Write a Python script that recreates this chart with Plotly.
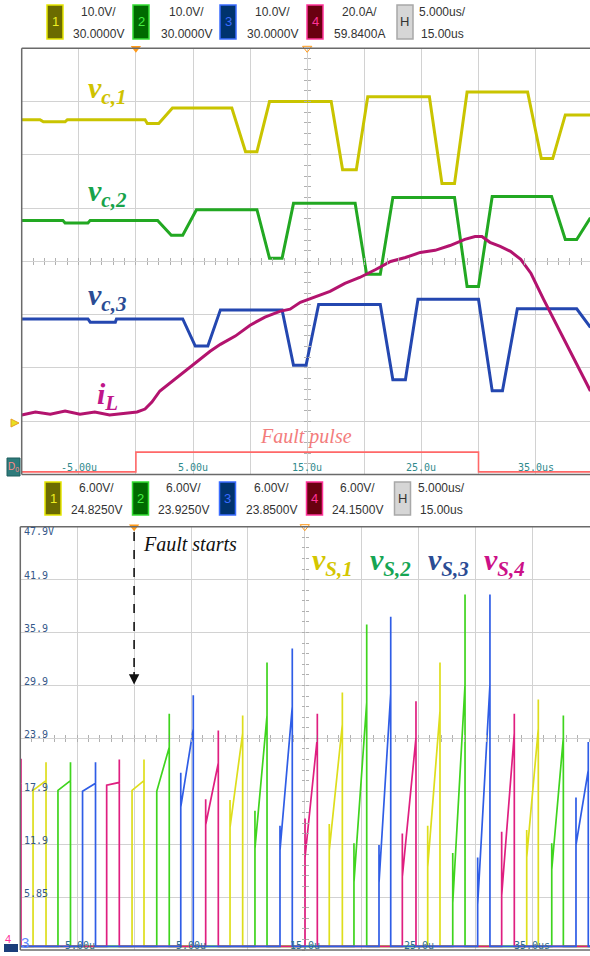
import plotly.graph_objects as go

W, H = 590, 956
def PX(x): return x / W
def PY(y): return 1 - y / H

# ======================= DATA =======================
# ---- upper scope: capacitor voltages (V), inductor current (A), time in us ----
vc1_t = [-10, -8.4, -8.1, -6.2, -6.0, 0.8, 1.0, 2.0, 3.2, 8.4, 9.6, 10.6, 11.7, 17.1, 18.1, 19.3, 20.3, 25.7, 26.8, 27.9, 29.0, 34.3, 35.5, 36.5, 37.6, 39.8]
vc1_v = [56.6, 56.6, 56.2, 56.2, 56.6, 56.6, 55.9, 55.9, 58.8, 58.8, 50.6, 50.6, 60.0, 60.0, 47.2, 47.2, 60.9, 60.9, 44.6, 44.6, 61.8, 61.8, 49.3, 49.3, 57.5, 57.5]

vc2_t = [-10, -6.4, -6.2, -4.2, -4.0, 1.9, 3.1, 4.1, 5.3, 10.6, 11.7, 12.8, 13.8, 19.2, 20.2, 21.4, 22.5, 27.9, 29.0, 30.0, 31.2, 36.4, 37.6, 38.6, 39.8]
vc2_v = [37.7, 37.7, 37.2, 37.2, 37.7, 37.7, 34.9, 34.9, 39.7, 39.7, 30.6, 30.6, 40.9, 40.9, 27.6, 27.6, 42.0, 42.0, 25.3, 25.3, 42.2, 42.2, 34.1, 34.1, 38.2]

vc3_t = [-10, -4.2, -4.0, -1.8, -1.7, 4.1, 5.2, 6.3, 7.4, 12.8, 13.8, 14.9, 16.0, 21.4, 22.5, 23.6, 24.7, 30.0, 31.2, 32.1, 33.4, 38.6, 39.8]
vc3_v = [19.2, 19.2, 18.6, 18.6, 19.2, 19.2, 14.1, 14.1, 20.9, 20.9, 10.5, 10.5, 21.9, 21.9, 7.8, 7.8, 22.9, 22.9, 5.7, 5.7, 21.1, 21.1, 17.6]

iL_t = [-10, -8.8, -7.5, -6.2, -4.9, -3.6, -2.3, -1.0, 0.1, 0.8, 1.4, 2.1, 3.4, 4.7, 5.6, 6.5, 7.4, 8.7, 10.0,
        11.3, 12.6, 13.5, 14.4, 15.7, 17.0, 18.3, 19.6, 21.0, 22.3, 23.6, 24.9, 26.2, 27.5, 28.8, 29.7, 30.3,
        31.0, 31.9, 32.8, 33.7, 34.6, 35.7, 36.9, 38.1, 39.8]
iL_a = [2.2, 3.3, 2.5, 3.7, 2.5, 3.3, 2.2, 2.9, 3.3, 4.4, 7.0, 11.2, 15.7, 20.1, 23.1, 26.1, 28.7, 31.8, 35.9,
        38.9, 41.1, 41.9, 44.5, 46.7, 48.6, 51.6, 53.8, 56.8, 59.8, 61.3, 63.2, 64.0, 65.8, 68.1, 69.2, 69.2,
        67.0, 65.5, 63.6, 60.6, 55.3, 45.6, 35.5, 25.8, 11.2]

fault_t = [-10, 0, 0, 30, 30, 39.8]
fault_lvl = [0, 0, 1, 1, 0, 0]

top_scale = [10.0, 10.0, 10.0, 20.0]
top_offset = [30.0, 30.0, 30.0, 59.84]
top_hdr_scale = ["10.0V/", "10.0V/", "10.0V/", "20.0A/"]
top_hdr_offset = ["30.0000V", "30.0000V", "30.0000V", "59.8400A"]
bot_hdr_scale = ["6.00V/", "6.00V/", "6.00V/", "6.00V/"]
bot_hdr_offset = ["24.8250V", "23.9250V", "23.8500V", "24.1500V"]
hdr_time = ["5.000us/", "15.00us"]

time_label_vals = [-5, 5, 15, 25, 35]
time_label_text = ["-5.00u", "5.00u", "15.0u", "25.0u", "35.0us"]
bot_ytick_vals = [47.9, 41.9, 35.9, 29.9, 23.9, 17.9, 11.9, 5.85]
bot_ytick_text = ["47.9V", "41.9", "35.9", "29.9", "23.9", "17.9", "11.9", "5.85"]

# ---- lower scope: switch voltages, one pulse per off-interval ----
# on/off times (us), level after turn-off edge, ramp start, ramp end, spike peak (V)
s1_on = [-8.88, -0.18, 8.43, 17.15, 25.8, 34.5]
s1_off = [-7.74, 0.87, 9.54, 18.3, 26.88, 35.52]
s1_edge = [18.0, 18.0, 16.9, 14.2, 14.0, 13.5]
s1_start = [18.0, 18.0, 13.8, 11.2, 9.3, 10.4]
s1_end = [19.1, 19.1, 24.5, 25.5, 27.0, 25.0]
s1_peak = [21.2, 21.5, 26.5, 29.1, 32.5, 28.3]

s2_on = [-6.69, 1.99, 10.62, 19.32, 28.0, 36.7]
s2_off = [-5.59, 3.09, 11.68, 20.44, 29.08, 37.72]
s2_edge = [18.0, 17.9, 15.7, 12.0, 10.9, 12.0]
s2_start = [18.0, 17.9, 11.4, 7.6, 5.2, 9.0]
s2_end = [19.1, 22.9, 26.5, 28.0, 30.0, 24.0]
s2_peak = [21.2, 26.7, 32.5, 36.8, 40.2, 26.5]

s3_on = [-4.53, 4.1, 12.82, 21.52, 30.19, 38.83]
s3_off = [-3.39, 5.2, 13.9, 22.55, 31.27, 39.91]
s3_edge = [17.9, 20.0, 14.0, 11.8, 10.4, 17.2]
s3_start = [17.9, 16.1, 11.2, 7.5, 5.0, 11.8]
s3_end = [18.8, 25.0, 27.5, 29.0, 30.0, 20.3]
s3_peak = [21.2, 28.8, 34.1, 37.7, 40.2, 23.5]

s4_on = [-11.0, -2.41, 6.29, 15.02, 23.57, 32.3]
s4_off = [-9.94, -1.30, 7.4, 16.1, 24.77, 33.41]
s4_edge = [18.5, 18.6, 17.0, 14.8, 13.1, 13.3]
s4_start = [18.5, 18.6, 14.1, 10.4, 8.2, 6.1]
s4_end = [18.9, 18.9, 21.1, 24.0, 24.0, 24.5]
s4_peak = [21.6, 21.5, 24.8, 26.7, 28.1, 26.7]

s_base = 0.3  # on-state level

# ======================= LAYOUT GEOMETRY (pixels) =======================
T_L, T_R, T_T, T_B = 21.7, 590, 48.3, 474.5
B_L, B_R, B_T, B_B = 20.3, 590, 526.7, 950
T_XR = [-10, -10 + (T_R - T_L) / 11.42]
B_XR = [-10, -10 + (B_R - B_L) / 11.38]
T_YR = [-4, 4]
B_YR = [-0.1, 47.9]
DIG_LOW, DIG_HIGH = -3.95, -3.58
GRID = "#d2d2d2"

fig = go.Figure()

def div(vals, k):
    return [(v - top_offset[k]) / top_scale[k] for v in vals]

top_cols = ["#c9c400", "#22a822", "#2447b0", "#b3136e"]
fig.add_trace(go.Scatter(x=vc1_t, y=div(vc1_v, 0), mode="lines", line=dict(color=top_cols[0], width=3), xaxis="x", yaxis="y"))
fig.add_trace(go.Scatter(x=vc2_t, y=div(vc2_v, 1), mode="lines", line=dict(color=top_cols[1], width=3), xaxis="x", yaxis="y"))
fig.add_trace(go.Scatter(x=vc3_t, y=div(vc3_v, 2), mode="lines", line=dict(color=top_cols[2], width=3), xaxis="x", yaxis="y"))
fig.add_trace(go.Scatter(x=iL_t, y=div(iL_a, 3), mode="lines", line=dict(color=top_cols[3], width=3), xaxis="x", yaxis="y"))
fig.add_trace(go.Scatter(x=fault_t, y=[DIG_LOW + l * (DIG_HIGH - DIG_LOW) for l in fault_lvl], mode="lines",
                         line=dict(color="#ff6868", width=1.6), xaxis="x", yaxis="y"))

def pulses(on, off, edge, start, end, peak):
    xs, ys = [-12], [s_base]
    for a, b, e, s, en, p in zip(on, off, edge, start, end, peak):
        xs += [a, a, a, b, b, b]
        ys += [s_base, e, s, en, p, s_base]
    xs.append(42); ys.append(s_base)
    return xs, ys

bot_cols = ["#dede1c", "#3fd41e", "#2f5de6", "#df1f80"]
for (on, off, e, s, en, p), c in zip(
        [(s1_on, s1_off, s1_edge, s1_start, s1_end, s1_peak),
         (s2_on, s2_off, s2_edge, s2_start, s2_end, s2_peak),
         (s4_on, s4_off, s4_edge, s4_start, s4_end, s4_peak),
         (s3_on, s3_off, s3_edge, s3_start, s3_end, s3_peak)],
        [bot_cols[0], bot_cols[1], bot_cols[3], bot_cols[2]]):
    xs, ys = pulses(on, off, e, s, en, p)
    fig.add_trace(go.Scatter(x=xs, y=ys, mode="lines", line=dict(color=c, width=1.7), xaxis="x2", yaxis="y2"))

# trigger markers
fig.add_trace(go.Scatter(x=[0], y=[T_YR[1]], mode="markers", marker=dict(symbol="triangle-down", size=9, color="#ff9a1a"),
                         xaxis="x", yaxis="y", cliponaxis=False))
fig.add_trace(go.Scatter(x=[15], y=[T_YR[1]], mode="markers", marker=dict(symbol="triangle-down-open", size=8, color="#ff9a1a"),
                         xaxis="x", yaxis="y", cliponaxis=False))
fig.add_trace(go.Scatter(x=[0], y=[B_YR[1]], mode="markers", marker=dict(symbol="triangle-down", size=9, color="#ff9a1a"),
                         xaxis="x2", yaxis="y2", cliponaxis=False))
fig.add_trace(go.Scatter(x=[15], y=[B_YR[1]], mode="markers", marker=dict(symbol="triangle-down-open", size=8, color="#ff9a1a"),
                         xaxis="x2", yaxis="y2", cliponaxis=False))

# dummy traces for center-line tick axes
for xa, ya in [("x3", "y3"), ("x4", "y4"), ("x5", "y5"), ("x6", "y6")]:
    fig.add_trace(go.Scatter(x=[None], y=[None], xaxis=xa, yaxis=ya, hoverinfo="skip"))

base_ax = dict(showgrid=True, gridcolor=GRID, gridwidth=1, zeroline=False, showticklabels=False,
               ticks="", showline=False, fixedrange=True)
tick_ax = dict(showgrid=False, zeroline=False, showticklabels=False, showline=False, tickcolor="#b0b0b0",
               ticklen=3, tickwidth=1, tickmode="linear", anchor="free")

layout = dict(
    width=W, height=H, margin=dict(l=0, r=0, t=0, b=0), autosize=False,
    paper_bgcolor="white", plot_bgcolor="white", showlegend=False,
    xaxis=dict(base_ax, domain=[PX(T_L), 1], range=T_XR, tickmode="linear", tick0=-10, dtick=5, anchor="y"),
    yaxis=dict(base_ax, domain=[PY(T_B), PY(T_T)], range=T_YR, tickmode="linear", tick0=-4, dtick=1, anchor="x"),
    xaxis2=dict(base_ax, domain=[PX(B_L), 1], range=B_XR, tickmode="linear", tick0=-10, dtick=5, anchor="y2"),
    yaxis2=dict(base_ax, domain=[PY(B_B), PY(B_T)], range=B_YR, tickmode="linear", tick0=-0.1, dtick=6, anchor="x2"),
    xaxis3=dict(tick_ax, overlaying="x", range=T_XR, tick0=-10, dtick=1, ticks="outside", position=PY((T_T + T_B) / 2)),
    xaxis4=dict(tick_ax, overlaying="x", range=T_XR, tick0=-10, dtick=1, ticks="inside", position=PY((T_T + T_B) / 2)),
    yaxis3=dict(tick_ax, overlaying="y", range=T_YR, tick0=-4, dtick=0.2, ticks="outside", position=PX(T_L + 25 * 11.42)),
    yaxis4=dict(tick_ax, overlaying="y", range=T_YR, tick0=-4, dtick=0.2, ticks="inside", position=PX(T_L + 25 * 11.42)),
    xaxis5=dict(tick_ax, overlaying="x2", range=B_XR, tick0=-10, dtick=1, ticks="outside", position=PY((B_T + B_B) / 2)),
    xaxis6=dict(tick_ax, overlaying="x2", range=B_XR, tick0=-10, dtick=1, ticks="inside", position=PY((B_T + B_B) / 2)),
    yaxis5=dict(tick_ax, overlaying="y2", range=B_YR, tick0=-0.1, dtick=1.2, ticks="outside", position=PX(B_L + 25 * 11.38)),
    yaxis6=dict(tick_ax, overlaying="y2", range=B_YR, tick0=-0.1, dtick=1.2, ticks="inside", position=PX(B_L + 25 * 11.38)),
)
fig.update_layout(**layout)

shapes = []
ann = []
BORDER = "#6a6a6a"
# panel borders
for x0, y0, x1, y1 in [(T_L, T_T, 590, T_T), (T_L, T_T, T_L, T_B), (T_L, T_B, 590, T_B),
                       (B_L, B_T, 590, B_T), (B_L, B_T, B_L, B_B), (B_L, B_B, 590, B_B)]:
    shapes.append(dict(type="line", xref="paper", yref="paper", x0=PX(x0), y0=PY(y0), x1=PX(x1), y1=PY(y1),
                       line=dict(color=BORDER, width=1.5)))

def text_at(x, y, txt, font, xanchor="center", yanchor="middle", xref="paper", yref="paper", **kw):
    d = dict(x=x, y=y, xref=xref, yref=yref, showarrow=False, text=txt, font=font,
             xanchor=xanchor, yanchor=yanchor)
    d.update(kw)
    ann.append(d)

# header boxes
box_fill = ["#6b6b00", "#006a00", "#00336e", "#6a0010", "#d6d6d6"]
box_line = ["#e6e600", "#33dd33", "#3a6cff", "#ff3399", "#a8a8a8"]
box_txt = ["#eeee22", "#44ee44", "#3a6cff", "#ff3399", "#333333"]
box_lbl = ["1", "2", "3", "4", "H"]

def header(box_x, box_y0, box_y1, text_x, row1_y, row2_y, scales, offsets):
    for i in range(5):
        shapes.append(dict(type="rect", xref="paper", yref="paper", x0=PX(box_x[i]), x1=PX(box_x[i] + 16),
                           y0=PY(box_y1), y1=PY(box_y0), fillcolor=box_fill[i], line=dict(color=box_line[i], width=1.5)))
        text_at(PX(box_x[i] + 8), PY((box_y0 + box_y1) / 2), box_lbl[i],
                dict(family="Liberation Sans", size=13, color=box_txt[i]))
        r1 = scales[i] if i < 4 else hdr_time[0]
        r2 = offsets[i] if i < 4 else hdr_time[1]
        for txt, yy in [(r1, row1_y), (r2, row2_y)]:
            text_at(PX(text_x[i]), PY(yy), txt, dict(family="Liberation Sans", size=12, color="#333333"))

header([47, 133, 220, 307, 397], 5, 39, [98, 186, 272, 359, 442], 12, 34, top_hdr_scale, top_hdr_offset)
header([45, 132.5, 219.5, 306.5, 394.5], 482, 515, [96, 183, 271, 357, 441], 487.5, 509.5, bot_hdr_scale, bot_hdr_offset)

# time labels on digital strip and bottom
for v, t in zip(time_label_vals, time_label_text):
    text_at(v, PY(467.5), t, dict(family="DejaVu Sans Mono", size=10, color="#2f8a8c"), xref="x")
    text_at(v, PY(945.5), t, dict(family="DejaVu Sans Mono", size=10, color="#2d6e8c"), xref="x2")

# bottom y labels
for v, t in zip(bot_ytick_vals, bot_ytick_text):
    text_at(PX(21.5), v, t, dict(family="DejaVu Sans Mono", size=10, color="#34588a"),
            xanchor="left", yref="y2", yshift=(-5 if v == bot_ytick_vals[0] else 4))

# curve labels
SERIF = "Liberation Serif"
def lab(main, sub, x, y, col, size=30):
    text_at(PX(x), PY(y), "<b><i>%s</i></b><sub><b><i>%s</i></b></sub>" % (main, sub),
            dict(family=SERIF, size=size, color=col))

lab("v", "c,1", 107, 90, "#cfc200")
lab("v", "c,2", 107, 193, "#17a34a")
lab("v", "c,3", 107, 297, "#2b4c94")
lab("i", "L", 107, 396, "#c0168a")
lab("v", "S,1", 332, 562, "#d4c600")
lab("v", "S,2", 390, 562, "#16a553")
lab("v", "S,3", 448, 562, "#2b4c94")
lab("v", "S,4", 504, 562, "#cc1188")

text_at(PX(306), PY(436), "<i>Fault pulse</i>", dict(family=SERIF, size=20, color="#f37c7c"))
text_at(PX(141), PY(544), "<i>Fault starts</i>", dict(family=SERIF, size=20, color="#111111"), xanchor="left")

# dashed fault-start arrow
shapes.append(dict(type="line", xref="x2", yref="y2", x0=0, x1=0, y0=47.3, y1=31.2,
                   line=dict(color="#111111", width=1.6, dash="dash")))
ann.append(dict(x=0, y=30.0, xref="x2", yref="y2", ax=0, ay=-14, text="", showarrow=True, arrowhead=2,
                arrowsize=1.3, arrowwidth=1.6, arrowcolor="#111111"))

# scope side markers
shapes.append(dict(type="rect", xref="paper", yref="paper", x0=PX(7), x1=PX(20), y0=PY(476), y1=PY(458),
                   fillcolor="#2e7b7b", line=dict(color="#1f5f5f", width=1)))
text_at(PX(13.5), PY(467), "D<sub>0</sub>", dict(family="Liberation Sans", size=10, color="#ff8a8a"))
shapes.append(dict(type="path", xref="paper", yref="paper",
                   path="M %f %f L %f %f L %f %f Z" % (PX(11), PY(419), PX(19), PY(423), PX(11), PY(427)),
                   fillcolor="#e8e020", line=dict(color="#e8a020", width=1)))
shapes.append(dict(type="rect", xref="paper", yref="paper", x0=PX(4), x1=PX(18), y0=PY(952), y1=PY(944),
                   fillcolor="#1b3d7a", line=dict(width=0)))
text_at(PX(8), PY(939), "4", dict(family="Liberation Sans", size=11, color="#ff3399"))
text_at(PX(25), PY(942), "3", dict(family="Liberation Sans", size=15, color="#5f8cff"))

fig.update_layout(shapes=shapes, annotations=ann)
fig.write_html("out.html")
